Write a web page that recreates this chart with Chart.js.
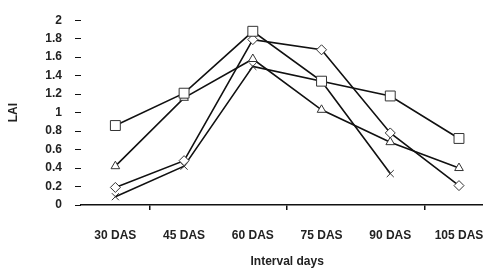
<!DOCTYPE html>
<html>
<head>
<meta charset="utf-8">
<script src="https://cdn.jsdelivr.net/npm/chart.js@4"></script>
<style>
  body { margin: 0; overflow: hidden; background: #fff; }
  #wrap { width: 502px; height: 273px; }
</style>
</head>
<body>
<div id="wrap"><canvas id="laiChart" width="502" height="273"></canvas></div>
<script>
const stages = ['30 DAS', '45 DAS', '60 DAS', '75 DAS', '90 DAS', '105 DAS'];
const yTickLabels = ['0', '0.2', '0.4', '0.6', '0.8', '1', '1.2', '1.4', '1.6', '1.8', '2'];

const laiSquare = [0.86, 1.21, 1.88, 1.34, 1.18, 0.72];
const laiTriangle = [0.42, 1.16, 1.58, 1.03, 0.68, 0.40];
const laiDiamond = [0.19, 0.48, 1.79, 1.68, 0.78, 0.21];
const laiCross = [0.09, 0.42, 1.50, 1.34, 0.34, null];

const ctx = document.getElementById('laiChart').getContext('2d');

function series(data, style, radius) {
  return {
    data: data,
    borderColor: '#111',
    borderWidth: 1.6,
    pointStyle: style,
    pointRadius: radius,
    pointBorderColor: '#333',
    pointBorderWidth: 1,
    pointBackgroundColor: '#fff',
    fill: false,
    tension: 0
  };
}

new Chart(ctx, {
  type: 'line',
  data: {
    labels: stages,
    datasets: [
      series(laiSquare, 'rect', 7),
      series(laiTriangle, 'triangle', 5),
      series(laiDiamond, 'rectRot', 5),
      series(laiCross, 'crossRot', 5)
    ]
  },
  options: {
    responsive: false,
    animation: false,
    layout: { padding: { top: 11, right: 3, left: 0, bottom: 0 } },
    plugins: {
      legend: { display: false },
      tooltip: { enabled: false }
    },
    scales: {
      x: {
        offset: true,
        grid: {
          offset: true,
          drawOnChartArea: false,
          drawTicks: true,
          tickLength: 5,
          color: (c) => (c.index % 2 === 1 ? '#111' : 'rgba(0,0,0,0)'),
          lineWidth: 1.5
        },
        border: { display: true, color: '#111', width: 1.6 },
        ticks: {
          padding: 18,
          maxRotation: 0,
          color: '#222',
          font: { family: 'Liberation Sans', size: 12, weight: 'bold' }
        },
        title: {
          display: true,
          text: 'Interval days',
          color: '#222',
          padding: { top: 0, bottom: 4 },
          font: { family: 'Liberation Sans', size: 12, weight: 'bold' }
        },
        afterFit: (s) => { s.height = 68; }
      },
      y: {
        min: 0,
        max: 2,
        ticks: {
          stepSize: 0.2,
          padding: 13,
          color: '#222',
          font: { family: 'Liberation Sans', size: 12, weight: 'bold' },
          callback: (v, i) => yTickLabels[i]
        },
        grid: {
          drawOnChartArea: false,
          drawTicks: true,
          tickLength: 6,
          color: '#111',
          lineWidth: 1
        },
        border: { display: false },
        title: {
          display: true,
          text: 'LAI',
          color: '#222',
          padding: { top: 6, bottom: 0 },
          font: { family: 'Liberation Sans', size: 12, weight: 'bold' }
        },
        afterFit: (s) => { s.width = 81; }
      }
    }
  }
});
</script>
</body>
</html>
